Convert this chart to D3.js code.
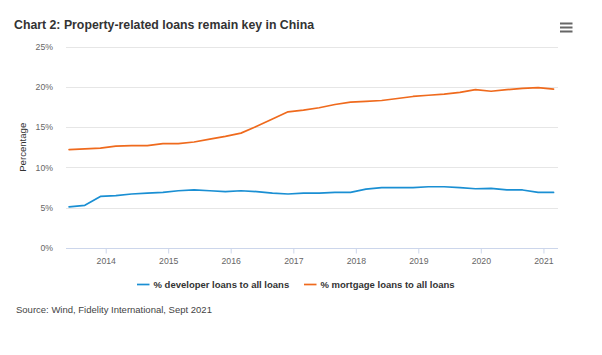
<!DOCTYPE html>
<html>
<head>
<meta charset="utf-8">
<script src="https://cdn.jsdelivr.net/npm/d3@7"></script>
<style>
  body { margin: 0; background: #fff; }
  text { font-family: "Liberation Sans", Arial, sans-serif; }
</style>
</head>
<body>
<svg id="chart" width="602" height="355"></svg>
<script>

// quarterly observations, Jun 2013 - Mar 2021
var dates = ["2013-06","2013-09","2013-12","2014-03","2014-06","2014-09","2014-12","2015-03",
             "2015-06","2015-09","2015-12","2016-03","2016-06","2016-09","2016-12","2017-03",
             "2017-06","2017-09","2017-12","2018-03","2018-06","2018-09","2018-12","2019-03",
             "2019-06","2019-09","2019-12","2020-03","2020-06","2020-09","2020-12","2021-03"];

var developer = [5.1,5.3,6.4,6.5,6.7,6.8,6.9,7.1,7.2,7.1,7.0,7.1,7.0,6.8,6.7,6.8,
                 6.8,6.9,6.9,7.3,7.5,7.5,7.5,7.6,7.6,7.5,7.35,7.4,7.2,7.2,6.9,6.9];

var mortgage = [12.2,12.3,12.4,12.65,12.7,12.7,12.95,12.95,13.15,13.5,13.85,14.25,15.1,16.0,16.9,17.1,
                17.4,17.8,18.1,18.2,18.3,18.55,18.8,18.95,19.1,19.3,19.65,19.45,19.65,19.8,19.9,19.7];

var yTicks = [0, 5, 10, 15, 20, 25];
var seriesNames = ["% developer loans to all loans", "% mortgage loans to all loans"];
var colors = ["#1a8fd3", "#ef6a1d"];

var parse = d3.timeParse("%Y-%m");
var format = d3.timeFormat("%Y");

var svg = d3.select("#chart");

var plotLeft = 66, plotRight = 558, plotTop = 46.5, plotBottom = 248;

var x = d3.scaleTime()
    .domain([new Date(2013, 4, 14), new Date(2021, 2, 27)])
    .range([plotLeft, plotRight]);

var y = d3.scaleLinear()
    .domain([0, 25])
    .range([plotBottom, plotTop]);

// title
svg.append("text")
    .attr("x", 14).attr("y", 29)
    .text("Chart 2: Property-related loans remain key in China")
    .style("font-size", "12.3px").style("font-weight", "bold").style("fill", "#333");

// menu icon
[23.5, 27.5, 31.5].forEach(function(yy) {
  svg.append("rect").attr("x", 560).attr("y", yy - 1).attr("width", 12.5).attr("height", 2)
      .style("fill", "#666");
});

// grid
svg.append("g")
    .selectAll("line")
    .data(yTicks)
  .enter().append("line")
    .attr("x1", plotLeft).attr("x2", plotRight)
    .attr("y1", function(d) { return Math.round(y(d)) + 0.5; })
    .attr("y2", function(d) { return Math.round(y(d)) + 0.5; })
    .style("stroke", function(d) { return d === 0 ? "#ccd6eb" : "#e6e6e6"; })
    .style("stroke-width", 1);

// y axis labels
var yAxis = d3.axisLeft(y)
    .tickValues(yTicks)
    .tickFormat(function(d) { return d + "%"; })
    .tickSize(0)
    .tickPadding(0);

var gy = svg.append("g")
    .attr("transform", "translate(" + 53 + ",0)")
    .call(yAxis);
gy.select(".domain").remove();
gy.selectAll("text")
    .style("font-size", "8.7px").style("fill", "#666")
    .style("font-family", "Liberation Sans, Arial, sans-serif")
    .attr("dy", "0.32em");

svg.append("text")
    .attr("transform", "translate(26," + ((plotTop + plotBottom) / 2) + ") rotate(-90)")
    .style("text-anchor", "middle")
    .style("font-size", "9.6px").style("fill", "#333")
    .text("Percentage");

// x axis
var xAxis = d3.axisBottom(x)
    .ticks(d3.timeYear.every(1))
    .tickFormat(format)
    .tickSize(5)
    .tickPadding(4);

var gx = svg.append("g")
    .attr("transform", "translate(0," + (Math.round(plotBottom) + 0.5) + ")")
    .call(xAxis);
gx.select(".domain").remove();
gx.selectAll("line").style("stroke", "#ccd6eb");
gx.selectAll("text")
    .style("font-size", "8.7px").style("fill", "#666")
    .style("font-family", "Liberation Sans, Arial, sans-serif");

// lines
var line = d3.line()
    .x(function(d) { return x(d.date); })
    .y(function(d) { return y(d.value); });

[developer, mortgage].forEach(function(vals, i) {
  var pts = vals.map(function(v, j) { return {date: parse(dates[j]), value: v}; });
  svg.append("path")
      .datum(pts)
      .attr("d", line)
      .style("fill", "none")
      .style("stroke", colors[i])
      .style("stroke-width", 1.7)
      .style("stroke-linejoin", "round")
      .style("stroke-linecap", "round");
});

// legend
var legendX = [137, 304];
seriesNames.forEach(function(name, i) {
  svg.append("line")
      .attr("x1", legendX[i]).attr("x2", legendX[i] + 12.5)
      .attr("y1", 284.5).attr("y2", 284.5)
      .style("stroke", colors[i]).style("stroke-width", 1.7);
  svg.append("text")
      .attr("x", legendX[i] + 16.5).attr("y", 288)
      .text(name)
      .style("font-size", "9.5px").style("font-weight", "bold").style("fill", "#333");
});

// source
svg.append("text")
    .attr("x", 16).attr("y", 313)
    .text("Source: Wind, Fidelity International, Sept 2021")
    .style("font-size", "9.5px").style("fill", "#444");

</script>
</body>
</html>
